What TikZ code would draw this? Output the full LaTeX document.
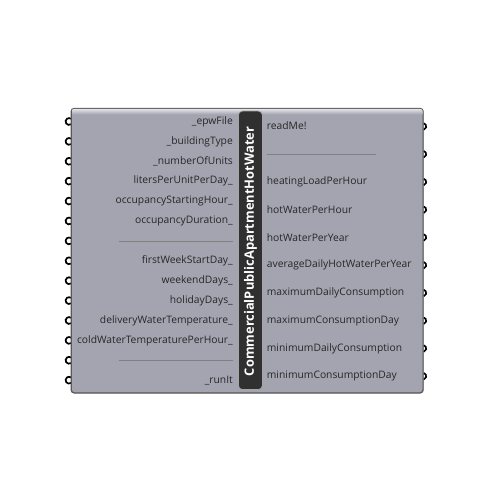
\documentclass[tikz,border=0pt]{standalone}
\usepackage{fontspec}
\setmainfont{Open Sans}
\begin{document}
\begin{tikzpicture}[x=1pt,y=-1pt,
  lbl/.style={font=\fontsize{10.3}{11}\selectfont, text=black!85, inner sep=0pt},
  port/.style={line width=1.7pt, draw=black},
  divider/.style={draw=black!50, line width=0.8pt}]
\definecolor{boxfill}{RGB}{164,164,177}
\definecolor{boxtop}{RGB}{225,225,230}
\definecolor{barfill}{RGB}{48,48,48}
\useasboundingbox[fill=white] (0,0) rectangle (500,500);
% input ports
\foreach \i in {0,...,13}{
  \pgfmathsetmacro\yy{121.5+\i*19.9}
  \draw[port] (69,\yy) ++(55:3.4) arc[start angle=55,end angle=305,radius=3.4];
}
% output ports
\foreach \i in {0,...,9}{
  \pgfmathsetmacro\yy{126.5+\i*27.75}
  \draw[port] (422.8,\yy) ++(-75:3.4) arc[start angle=-75,end angle=75,radius=3.4];
}
% main box
\node[draw=black!65, line width=0.8pt, rounded corners=3pt, fill=boxfill,
  minimum width=351.5pt, minimum height=284pt, inner sep=0pt, anchor=north west] (box) at (71,108.3) {};
\shade[top color=boxtop, bottom color=boxfill] ([xshift=1pt,yshift=-0.8pt]box.north west) rectangle ([xshift=-1pt,yshift=-6pt]box.north east);
\draw[black!65, line width=0.8pt, rounded corners=3pt] (box.north west) rectangle (box.south east);
% title bar
\node[draw=black!35, line width=0.8pt, rounded corners=4pt, fill=barfill,
  minimum width=24pt, minimum height=278.5pt, inner sep=0pt, anchor=north west] (bar) at (238,110.7) {};
\node[rotate=90, text=white, font=\fontsize{12.9}{14}\bfseries\selectfont, inner sep=0pt] (title) at ([yshift=-1pt]bar.center) {CommercialPublicApartmentHotWater};
% inputs
\def\inx{233}
\node[lbl, anchor=east] (i1) at (\inx,121.5) {\_epwFile};
\node[lbl, anchor=east] (i2) at (\inx,141.4) {\_buildingType};
\node[lbl, anchor=east] (i3) at (\inx,161.3) {\_numberOfUnits};
\node[lbl, anchor=east] (i4) at (\inx,181.2) {litersPerUnitPerDay\_};
\node[lbl, anchor=east] (i5) at (\inx,201.1) {occupancyStartingHour\_};
\node[lbl, anchor=east] (i6) at (\inx,221.0) {occupancyDuration\_};
\draw[divider] (119,240.9) -- (232.7,240.9);
\node[lbl, anchor=east] (i8) at (\inx,260.8) {firstWeekStartDay\_};
\node[lbl, anchor=east] (i9) at (\inx,280.7) {weekendDays\_};
\node[lbl, anchor=east] (i10) at (\inx,300.6) {holidayDays\_};
\node[lbl, anchor=east] (i11) at (\inx,320.5) {deliveryWaterTemperature\_};
\node[lbl, anchor=east] (i12) at (\inx,340.4) {coldWaterTemperaturePerHour\_};
\draw[divider] (119,360.3) -- (232.7,360.3);
\node[lbl, anchor=east] (i14) at (\inx,380.2) {\_runIt};
% outputs
\def\outx{266.7}
\node[lbl, anchor=west] (o1) at (\outx,125.5) {readMe!};
\draw[divider] (266.7,154.25) -- (375.7,154.25);
\node[lbl, anchor=west] (o3) at (\outx,182.0) {heatingLoadPerHour};
\node[lbl, anchor=west] (o4) at (\outx,209.75) {hotWaterPerHour};
\node[lbl, anchor=west] (o5) at (\outx,237.5) {hotWaterPerYear};
\node[lbl, anchor=west] (o6) at (\outx,265.25) {averageDailyHotWaterPerYear};
\node[lbl, anchor=west] (o7) at (\outx,293.0) {maximumDailyConsumption};
\node[lbl, anchor=west] (o8) at (\outx,320.75) {maximumConsumptionDay};
\node[lbl, anchor=west] (o9) at (\outx,348.5) {minimumDailyConsumption};
\node[lbl, anchor=west] (o10) at (\outx,376.25) {minimumConsumptionDay};
\end{tikzpicture}
\end{document}
